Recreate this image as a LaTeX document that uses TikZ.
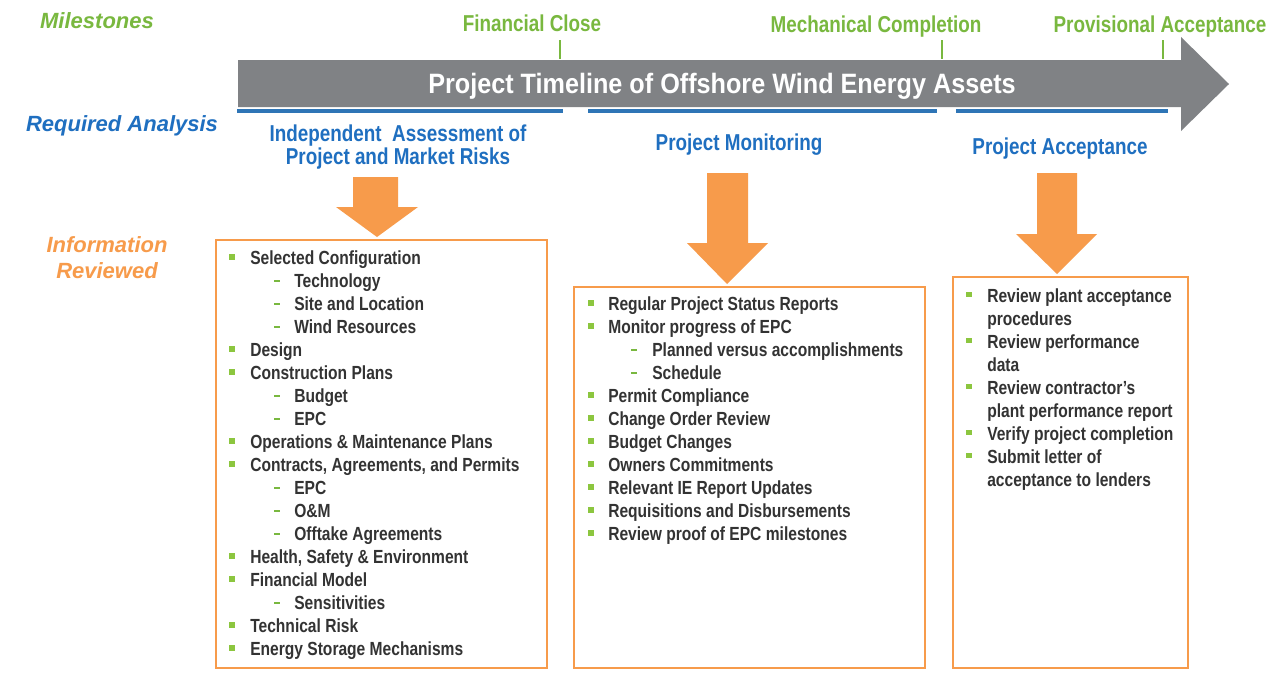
\documentclass[tikz,border=0pt]{standalone}
\usepackage{fontspec}
\setmainfont{Liberation Sans}
\newfontfamily\nar{Liberation Sans}[FakeStretch=0.82]
\newfontfamily\ttl{Liberation Sans}[FakeStretch=0.9]
\definecolor{msgreen}{HTML}{79B83F}
\definecolor{bulgreen}{HTML}{8CC63F}
\definecolor{rablue}{HTML}{1F6FC0}
\definecolor{lnblue}{HTML}{2E75B6}
\definecolor{orng}{HTML}{F79B4B}
\definecolor{gryarr}{HTML}{808285}
\definecolor{bodyc}{HTML}{333333}
\begin{document}
\begin{tikzpicture}[x=0.75pt,y=-0.75pt,
  sidelbl/.style={font=\fontsize{16.5}{18}\selectfont\bfseries\itshape, inner sep=0pt, anchor=base},
  mslbl/.style={font=\nar\fontsize{17.25}{19}\selectfont\bfseries, text=msgreen, inner sep=0pt, anchor=base},
  headlbl/.style={font=\nar\fontsize{17.25}{19}\selectfont\bfseries, text=rablue, inner sep=0pt, anchor=base},
  bodytxt/.style={font=\nar\fontsize{14.25}{16}\selectfont\bfseries, text=bodyc, inner sep=0pt, anchor=base west},
  bul/.style={rectangle, fill=bulgreen, minimum size=3.9pt, inner sep=0pt},
  dsh/.style={rectangle, fill=msgreen, minimum width=5.2pt, minimum height=1.5pt, inner sep=0pt},
  tick/.style={draw=msgreen, line width=2.2pt},
  bline/.style={draw=lnblue, line width=2.4pt},
  infobox/.style={draw=orng, line width=1.6pt},
  orarrow/.style={fill=orng}]
\useasboundingbox (0,0) rectangle (1280,672);
\fill[white] (0,0) rectangle (1280,672);

% milestones
\node[sidelbl, text=msgreen] (ms) at (97,28) {Milestones};
\node[mslbl] (fc) at (532,31) {Financial Close};
\node[mslbl] (mc) at (876,32) {Mechanical Completion};
\node[mslbl] (pa) at (1160,32) {Provisional Acceptance};
\coordinate (t1a) at (560,40); \coordinate (t1b) at (560,59);
\coordinate (t2a) at (942,40); \coordinate (t2b) at (942,59);
\coordinate (t3a) at (1163,40); \coordinate (t3b) at (1163,59);
\draw[tick] (t1a) -- (t1b);
\draw[tick] (t2a) -- (t2b);
\draw[tick] (t3a) -- (t3b);

% timeline arrow
\fill[gryarr] (238,60) -- (1181,60) -- (1181,37) -- (1229,84) -- (1181,131) -- (1181,107) -- (238,107) -- cycle;
\node[font=\ttl\fontsize{21}{23}\selectfont\bfseries, text=white, inner sep=0pt, anchor=base] (title) at (722,93) {Project Timeline of Offshore Wind Energy Assets};

% blue lines
\draw[bline] (237,111) -- (563,111);
\draw[bline] (588,111) -- (937,111);
\draw[bline] (956,111) -- (1168,111);

% required analysis
\node[sidelbl, text=rablue] (ra) at (122,131) {Required Analysis};
\node[headlbl] (h1a) at (398,141) {Independent\ \ Assessment of};
\node[headlbl] (h1b) at (398,164) {Project and Market Risks};
\node[headlbl] (h2) at (739,150) {Project Monitoring};
\node[headlbl] (h3) at (1060,154) {Project Acceptance};

% information reviewed
\node[sidelbl, text=orng] (ir1) at (107,252) {Information};
\node[sidelbl, text=orng] (ir2) at (107,278) {Reviewed};

% orange arrows
\fill[orarrow] (353,177) -- (398,177) -- (398,207) -- (418,207) -- (377,237) -- (336,207) -- (353,207) -- cycle;
\fill[orarrow] (707,173) -- (748,173) -- (748,243) -- (768,243) -- (727,284) -- (687,243) -- (707,243) -- cycle;
\fill[orarrow] (1037,173) -- (1077,173) -- (1077,234) -- (1097,234) -- (1057,274) -- (1016,234) -- (1037,234) -- cycle;

% boxes
\draw[infobox] (216,240) rectangle (547,668);
\draw[infobox] (574,287) rectangle (925,668);
\draw[infobox] (953,277) rectangle (1188,668);

% box 1 items
\foreach \lv/\txt [count=\i from 0] in {1/Selected Configuration, 2/Technology, 2/Site and Location, 2/Wind Resources, 1/Design, 1/Construction Plans, 2/Budget, 2/EPC, 1/{Operations \& Maintenance Plans}, 1/{Contracts, Agreements, and Permits}, 2/EPC, 2/{O\&M}, 2/Offtake Agreements, 1/{Health, Safety \& Environment}, 1/Financial Model, 2/Sensitivities, 1/Technical Risk, 1/Energy Storage Mechanisms}{
  \pgfmathsetmacro\by{264.5+23*\i}
  \ifnum\lv=1
    \node[bodytxt] (a\i) at (250,\by) {\txt};
    \node[bul] (ab\i) at (232,\by-7.5) {};
  \else
    \node[bodytxt] (a\i) at (294,\by) {\txt};
    \node[dsh] (ab\i) at (277,\by-7) {};
  \fi
}

% box 2 items
\foreach \lv/\txt [count=\i from 0] in {1/Regular Project Status Reports, 1/Monitor progress of EPC, 2/Planned versus accomplishments, 2/Schedule, 1/Permit Compliance, 1/Change Order Review, 1/Budget Changes, 1/Owners Commitments, 1/Relevant IE Report Updates, 1/Requisitions and Disbursements, 1/Review proof of EPC milestones}{
  \pgfmathsetmacro\by{310.5+23*\i}
  \ifnum\lv=1
    \node[bodytxt] (b\i) at (608,\by) {\txt};
    \node[bul] (bb\i) at (591,\by-7.5) {};
  \else
    \node[bodytxt] (b\i) at (652,\by) {\txt};
    \node[dsh] (bb\i) at (634,\by-7) {};
  \fi
}

% box 3 items
\foreach \lv/\txt [count=\i from 0] in {1/Review plant acceptance, 0/procedures, 1/Review performance, 0/data, 1/Review contractor’s, 0/plant performance report, 1/Verify project completion, 1/Submit letter of, 0/acceptance to lenders}{
  \pgfmathsetmacro\by{302+23*\i}
  \node[bodytxt] (c\i) at (987,\by) {\txt};
  \ifnum\lv=1
    \node[bul] (cb\i) at (969,\by-7.5) {};
  \fi
}
\end{tikzpicture}
\end{document}
